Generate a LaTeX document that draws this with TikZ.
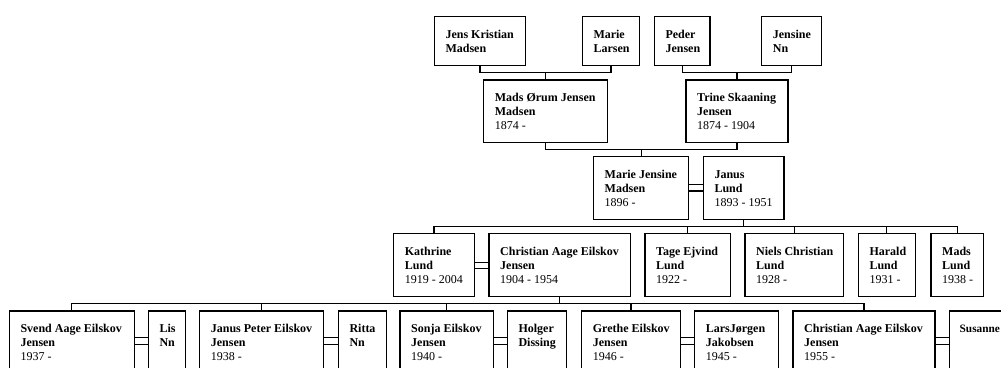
\documentclass[tikz,border=0pt]{standalone}
\usepackage{fontspec}
\setmainfont{Liberation Serif}
\usetikzlibrary{calc}
\tikzset{
  pbox/.style={draw=black, line width=1.1pt, fill=white, inner sep=0pt, outer sep=0pt},
  ptext/.style={inner sep=0pt, align=left, font=\fontsize{12}{14}\selectfont, text=black},
  conn/.style={draw=black, line width=1.1pt}
}
\newcommand{\person}[6]{%
  \node[pbox, anchor=north west, minimum width={(#4)-(#2)}, minimum height={(#5)-(#3)}] (#1) at (#2,#3) {};
  \node[ptext, anchor=north west] (#1t) at ($(#1.north west)+(11,11.7)$) {#6};
}
\newcommand{\marr}[3]{%
  \draw[conn] ($(#1.north east)+(0,#3)$) -- ($(#2.north west)+(0,#3)$);
  \draw[conn] ($(#1.north east)+(0,#3+6.5)$) -- ($(#2.north west)+(0,#3+6.5)$);
}
\begin{document}
\begin{tikzpicture}[x=1pt,y=-1pt]
\clip (0,0) rectangle (1001,367);
\fill[white] (0,0) rectangle (1001,367);
% Row 0
\person{jkm}{434.3}{16.7}{525.7}{65.3}{\strut\textbf{Jens Kristian}\\\textbf{Madsen}}
\person{mla}{582.3}{16.7}{639.7}{65.3}{\strut\textbf{Marie}\\\textbf{Larsen}}
\person{pj}{654.3}{16.7}{710}{65.3}{\strut\textbf{Peder}\\\textbf{Jensen}}
\person{jn}{761.7}{16.7}{821.3}{65.3}{\strut\textbf{Jensine}\\\textbf{Nn}}
% Row 1
\person{mojm}{483.7}{80}{607.3}{142.7}{\strut\textbf{Mads Ørum Jensen}\\\textbf{Madsen}\\1874 -}
\person{tsj}{686}{80}{788}{142.7}{\strut\textbf{Trine Skaaning}\\\textbf{Jensen}\\1874 - 1904}
% Row 2
\person{mjm}{593.5}{156.7}{688.7}{219.3}{\strut\textbf{Marie Jensine}\\\textbf{Madsen}\\1896 -}
\person{jl}{703.3}{156.7}{784}{219.3}{\strut\textbf{Janus}\\\textbf{Lund}\\1893 - 1951}
% Row 3
\person{kl}{393.7}{233.3}{474.3}{296.3}{\strut\textbf{Kathrine}\\\textbf{Lund}\\1919 - 2004}
\person{caej}{489}{233.3}{630.3}{296.3}{\strut\textbf{Christian Aage Eilskov}\\\textbf{Jensen}\\1904 - 1954}
\person{tel}{645}{233.3}{730.7}{296.3}{\strut\textbf{Tage Ejvind}\\\textbf{Lund}\\1922 -}
\person{ncl}{745}{233.3}{843.5}{296.3}{\strut\textbf{Niels Christian}\\\textbf{Lund}\\1928 -}
\person{hl}{858.3}{233.3}{915.3}{296.3}{\strut\textbf{Harald}\\\textbf{Lund}\\1931 -}
\person{mlu}{931}{233.3}{983.7}{296.3}{\strut\textbf{Mads}\\\textbf{Lund}\\1938 -}
% Row 4
\person{saej}{9.3}{311}{134.3}{374}{\strut\textbf{Svend Aage Eilskov}\\\textbf{Jensen}\\1937 -}
\person{lnn}{148.3}{311}{185.7}{374}{\strut\textbf{Lis}\\\textbf{Nn}}
\person{jpej}{199.7}{311}{323.3}{374}{\strut\textbf{Janus Peter Eilskov}\\\textbf{Jensen}\\1938 -}
\person{rnn}{338.3}{311}{386.7}{374}{\strut\textbf{Ritta}\\\textbf{Nn}}
\person{sej}{400}{311}{493.3}{374}{\strut\textbf{Sonja Eilskov}\\\textbf{Jensen}\\1940 -}
\person{hd}{507.3}{311}{566.7}{374}{\strut\textbf{Holger}\\\textbf{Dissing}}
\person{gej}{581.7}{311}{680.3}{374}{\strut\textbf{Grethe Eilskov}\\\textbf{Jensen}\\1946 -}
\person{ljj}{694.7}{311}{778.7}{374}{\strut\textbf{LarsJørgen}\\\textbf{Jakobsen}\\1945 -}
\person{caejb}{793}{311}{935}{374}{\strut\textbf{Christian Aage Eilskov}\\\textbf{Jensen}\\1955 -}
\node[pbox, anchor=north west, minimum width=62.5, minimum height=63] (sus) at (949.5,311) {};
\node[ptext, anchor=north west, font=\fontsize{11.3}{14}\selectfont] (sust) at ($(sus.north west)+(10,11.7)$) {\strut\textbf{Susanne}};
% Parent connectors
\draw[conn] (jkm.south) -- ++(0,7) -| (mla.south);
\draw[conn] (mojm.north) -- ++(0,-7.7);
\draw[conn] (pj.south) -- ++(0,7) -| (jn.south);
\draw[conn] (tsj.north) -- ++(0,-7.7);
\draw[conn] (mojm.south) -- ++(0,7) -| (tsj.south);
\draw[conn] (mjm.north) -- ++(0,-7);
% Marriages
\marr{mjm}{jl}{27.8}
\marr{kl}{caej}{29}
\marr{saej}{lnn}{26.7}
\marr{jpej}{rnn}{26.7}
\marr{sej}{hd}{26.7}
\marr{gej}{ljj}{26.7}
\marr{caejb}{sus}{26.7}
% Children of Janus
\draw[conn] (jl.south) -- ++(0,7.4);
\draw[conn] (kl.north) -- ++(0,-6.6) -| (mlu.north);
\draw[conn] (tel.north) -- ++(0,-6.6);
\draw[conn] (ncl.north) -- ++(0,-6.6);
\draw[conn] (hl.north) -- ++(0,-6.6);
% Grandchildren
\draw[conn] (caej.south) -- ++(0,7.2);
\draw[conn] (saej.north) -- ++(0,-7.5) -| (caejb.north);
\draw[conn] (jpej.north) -- ++(0,-7.5);
\draw[conn] (sej.north) -- ++(0,-7.5);
\draw[conn] (gej.north) -- ++(0,-7.5);
\end{tikzpicture}
\end{document}
